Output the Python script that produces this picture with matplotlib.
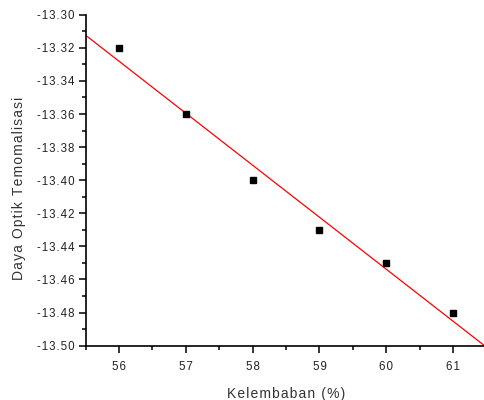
import numpy as np
import matplotlib
matplotlib.use("Agg")
import matplotlib.pyplot as plt
from matplotlib.ticker import MultipleLocator, FuncFormatter

# data
kelembaban = [56, 57, 58, 59, 60, 61]
daya = [-13.32, -13.36, -13.40, -13.43, -13.45, -13.48]

plt.rcParams['font.family'] = ['Liberation Sans', 'DejaVu Sans']
plt.rcParams['axes.unicode_minus'] = False

HS = "\u200a"  # hair space, the original text is loosely spaced


def spaced(s):
    return HS.join(s)


fig = plt.figure(figsize=(4.84, 4.0), dpi=100)
ax = fig.add_axes([0.177, 0.136, 0.828, 0.827])

# linear fit
slope, intercept = np.polyfit(kelembaban, daya, 1)
xfit = np.array([55.5, 61.5])
ax.plot(xfit, slope * xfit + intercept, color="red", linewidth=0.9)

ax.plot(kelembaban, daya, linestyle="none", marker="s", markersize=5,
        color="black")

ax.set_xlim(55.5, 61.5)
ax.set_ylim(-13.50, -13.30)
ax.xaxis.set_major_locator(MultipleLocator(1))
ax.xaxis.set_minor_locator(MultipleLocator(0.5))
ax.yaxis.set_major_locator(MultipleLocator(0.02))
ax.yaxis.set_minor_locator(MultipleLocator(0.01))
ax.xaxis.set_major_formatter(FuncFormatter(lambda v, p: spaced(f"{v:.0f}")))
ax.yaxis.set_major_formatter(FuncFormatter(lambda v, p: spaced(f"{v:.2f}")))

ax.spines["top"].set_visible(False)
ax.spines["right"].set_visible(False)
ax.spines["left"].set_linewidth(1.2)
ax.spines["bottom"].set_linewidth(1.2)

ax.tick_params(which="major", direction="out", length=5, width=1.1,
               labelsize=8.3, labelcolor="#222222")
ax.tick_params(which="minor", direction="out", length=3, width=1.1)
ax.tick_params(axis="x", pad=6)
ax.tick_params(axis="y", pad=3)

ax.set_xlabel(spaced("Kelembaban (%)"), fontsize=10, color="#333333",
              labelpad=10)
ax.set_ylabel(spaced("Daya Optik Temomalisasi"), fontsize=10, color="#333333")
ax.yaxis.set_label_coords(-0.148, 0.475)

fig.savefig("out.png", dpi=100)
